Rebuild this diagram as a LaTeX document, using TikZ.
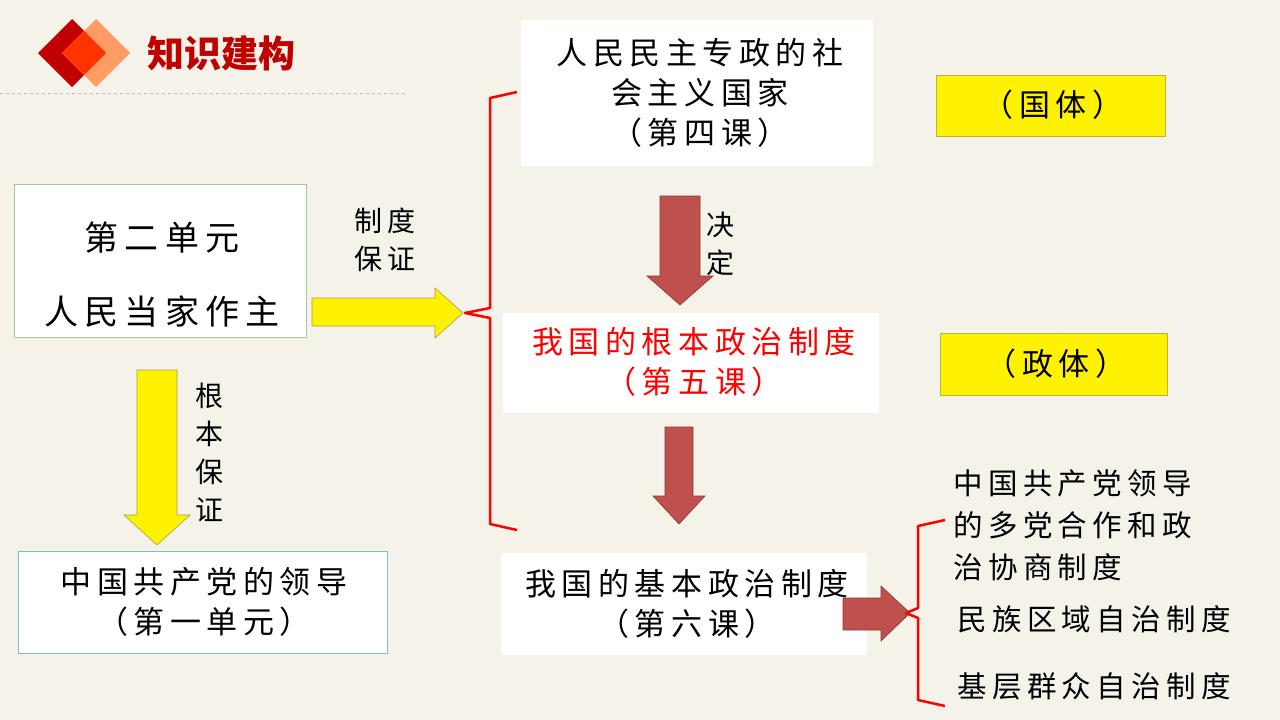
\documentclass[tikz,border=0pt]{standalone}
\usepackage{fontspec}
\setmainfont{Noto Sans CJK SC}
\newfontfamily\cjk[LetterSpace=18]{Noto Sans CJK SC}
\newfontfamily\cjktitle{Noto Sans CJK SC}
\usetikzlibrary{positioning}
\definecolor{bgpaper}{HTML}{F5F3E9}
\definecolor{brickred}{HTML}{C0504D}
\definecolor{titlered}{HTML}{C00000}
\begin{document}
\begin{tikzpicture}[x=1pt,y=-1pt,
		box/.style={fill=white,draw=none,inner sep=0pt},
		yarrow/.style={fill=yellow,draw=black!40!yellow,line width=0.6pt},
		rarrow/.style={fill=brickred,draw=brickred!70!black,line width=0.6pt},
		brace/.style={draw=red,line width=2.5pt,line join=round},
		every node/.style={font=\cjk\fontsize{31}{40}\selectfont,align=center},
		small/.style={font=\cjk\fontsize{28}{38}\selectfont},
		side/.style={font=\cjk\fontsize{29.5}{42}\selectfont}]

		\fill[bgpaper] (0,0) rectangle (1280,720);
		\useasboundingbox (0,0) rectangle (1280,720);

		% title
		\fill[titlered] (38,53) -- (72,19) -- (106,53) -- (72,87) -- cycle;
		\fill[orange!70!red!60!white] (62,53) -- (96,19) -- (130,53) -- (96,87) -- cycle;
		\fill[red!60!orange] (62,53) -- (84,31) -- (106,53) -- (84,75) -- cycle;
		\node[font=\cjktitle\bfseries\fontsize{37}{40}\selectfont,text=titlered,anchor=west] (title) at (144,53) {知识建构};
		\draw[gray!50,dashed] (0,93) -- (405,93);

		% left column
		\draw[fill=white,draw=green!30!gray!60] (14,184) rectangle (306,337);
		\node[font=\cjk\fontsize{34}{40}\selectfont] (unit) at (162,238) {第二单元};
		\node[font=\cjk\fontsize{34}{40}\selectfont] (theme) at (162,312) {人民当家作主};
		\draw[fill=white,draw=teal!50] (18,551) rectangle (387,653);
		\node (party) at (204,602) {中国共产党的领导\\（第一单元）};

		\draw[yarrow] (312,298) -- (435,298) -- (435,288) -- (463,313) -- (435,338) -- (435,326) -- (312,326) -- cycle;
		\node[small] (zd) at (385,240) {制度\\保证};
		\draw[yarrow] (137,370) -- (177,370) -- (177,515) -- (190,515) -- (157,545) -- (124,515) -- (137,515) -- cycle;
		\node[small] (gb) at (209,452) {根\\本\\保\\证};

		% middle column
		\fill[white] (521,20) rectangle (873,166);
		\node (guoti) at (700,93) {人民民主专政的社\\会主义国家\\（第四课）};
		\fill[white] (503,313) rectangle (879,413);
		\node[text=red] (root) at (694,362) {我国的根本政治制度\\（第五课）};
		\fill[white] (501,553) rectangle (867,655);
		\node (basic) at (687,604) {我国的基本政治制度\\（第六课）};

		\draw[rarrow] (660,196) -- (700,196) -- (700,276) -- (713,276) -- (680,305) -- (647,276) -- (660,276) -- cycle;
		\node[small] (jd) at (720,244) {决\\定};
		\draw[rarrow] (665,427) -- (693,427) -- (693,496) -- (705,496) -- (679,524) -- (653,496) -- (665,496) -- cycle;
		\draw[rarrow] (843,598) -- (881,598) -- (881,586) -- (910,613) -- (881,641) -- (881,630) -- (843,630) -- cycle;

		\draw[brace] (517,92) -- (490,98) -- (490,308) -- (465,313) -- (490,318) -- (490,524) -- (517,530);
		\draw[brace] (945,520) -- (918,526) -- (918,608) -- (906,613) -- (918,618) -- (918,700) -- (945,706);

		% right column
		\draw[fill=yellow,draw=yellow!70!black] (936,75) rectangle (1165,136);
		\node (gt) at (1053,105) {（国体）};
		\draw[fill=yellow,draw=yellow!70!black] (940,333) rectangle (1167,395);
		\node (zt) at (1056,364) {（政体）};
		\node[side,align=left,anchor=north west] (dd) at (950,466) {中国共产党领导\\的多党合作和政\\治协商制度};
		\node[side,anchor=west] (mz) at (954,619) {民族区域自治制度};
		\node[side,anchor=west] (jc) at (954,686) {基层群众自治制度};
\end{tikzpicture}
\end{document}
